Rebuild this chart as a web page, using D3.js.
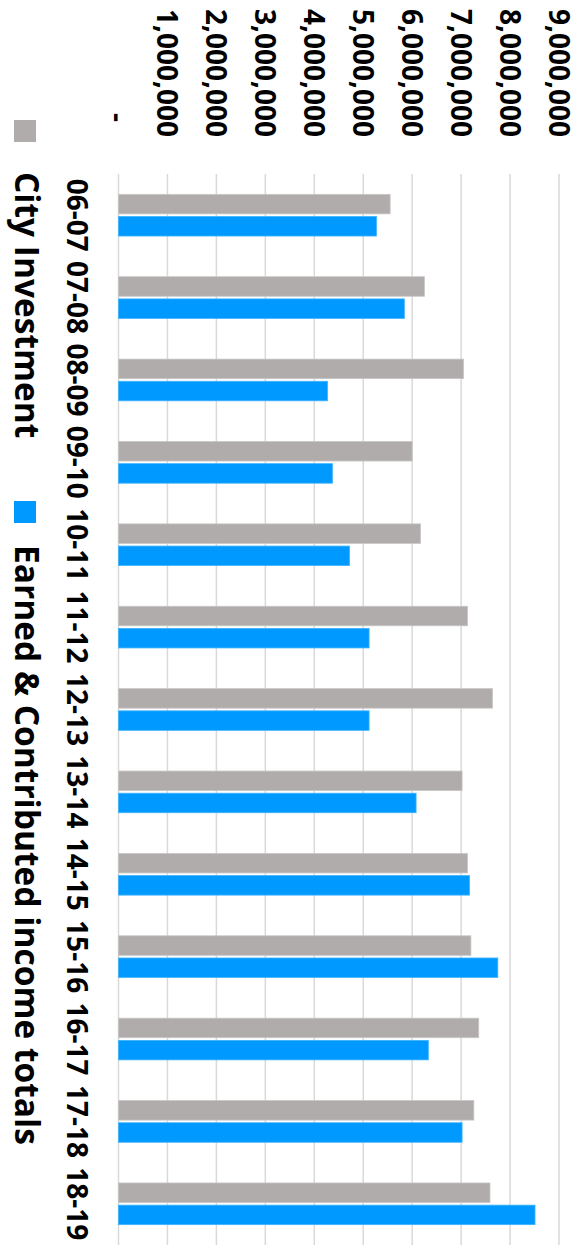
<!DOCTYPE html>
<html><head><meta charset="utf-8">
<script src="https://cdn.jsdelivr.net/npm/d3@7"></script>
<style>html,body{margin:0;padding:0;background:#fff;}svg{display:block;}</style>
</head><body>
<script>
const categories = ["06-07","07-08","08-09","09-10","10-11","11-12","12-13","13-14","14-15","15-16","16-17","17-18","18-19"];
const cityInvestment = [5550000,6250000,7050000,6000000,6170000,7130000,7640000,7020000,7130000,7200000,7360000,7260000,7590000];
const earnedContributed = [5270000,5840000,4270000,4370000,4720000,5120000,5120000,6080000,7170000,7750000,6330000,7020000,8510000];
const seriesNames = ["City Investment","Earned & Contributed income totals"];
const seriesColors = ["#AFACAB","#0099FF"];
const tickValues = [0,1000000,2000000,3000000,4000000,5000000,6000000,7000000,8000000,9000000];
const tickLabels = ["-","1,000,000","2,000,000","3,000,000","4,000,000","5,000,000","6,000,000","7,000,000","8,000,000","9,000,000"];

const W = 578, H = 1253;
const svg = d3.select("body").append("svg").attr("width", W).attr("height", H);
// draw in an unrotated frame (width H, height W), then rotate 90deg clockwise
const g = svg.append("g").attr("transform", `translate(${W},0) rotate(90)`);
const font = "'Open Sans', sans-serif";

const x0 = d3.scaleBand().domain(categories).range([174, 1245]).paddingInner(0.494).paddingOuter(0.247);
const x1 = d3.scaleBand().domain([0,1]).range([0, x0.bandwidth()]).paddingInner(0.12);
const y = d3.scaleLinear().domain([0, 9000000]).range([459.5, 19]);

// gridlines
g.append("g").selectAll("line").data(tickValues).join("line")
  .attr("x1", 174).attr("x2", 1245)
  .attr("y1", d => y(d)).attr("y2", d => y(d))
  .attr("stroke", "#D9D9D9").attr("stroke-width", 1.5);

// value labels
g.append("g").selectAll("text").data(tickValues).join("text")
  .attr("x", (d,i) => i === 0 ? 122 : 137)
  .attr("y", d => y(d))
  .attr("dy", "0.36em")
  .attr("text-anchor", "end")
  .attr("font-family", font).attr("font-weight", "bold").attr("font-size", 28)
  .attr("fill", "#000")
  .text((d,i) => tickLabels[i]);

// bars
const data = categories.map((c,i) => ({c, vals:[cityInvestment[i], earnedContributed[i]]}));
const groups = g.append("g").selectAll("g").data(data).join("g")
  .attr("transform", d => `translate(${x0(d.c)},0)`);
groups.selectAll("rect").data(d => d.vals.map((v,k) => ({v,k}))).join("rect")
  .attr("x", d => x1(d.k)).attr("width", x1.bandwidth())
  .attr("y", d => y(d.v)).attr("height", d => y(0) - y(d.v))
  .attr("fill", d => seriesColors[d.k])
  .attr("stroke", d => d.k === 0 ? "#C8C6C5" : "#3FB3FF").attr("stroke-width", 0.8);

// category labels
g.append("g").selectAll("text").data(categories).join("text")
  .attr("x", d => x0(d) + x0.bandwidth()/2)
  .attr("y", 511)
  .attr("text-anchor", "middle")
  .attr("font-family", font).attr("font-weight", "bold").attr("font-size", 28)
  .attr("fill", "#000")
  .text(d => d);

// legend
const legendPos = [{sq:120, tx:172}, {sq:501, tx:545}];
const leg = g.append("g").selectAll("g").data(seriesNames).join("g");
leg.append("rect")
  .attr("x", (d,i) => legendPos[i].sq).attr("y", 542)
  .attr("width", 22).attr("height", 22)
  .attr("fill", (d,i) => seriesColors[i]);
leg.append("text")
  .attr("x", (d,i) => legendPos[i].tx).attr("y", 563)
  .attr("font-family", font).attr("font-weight", "bold").attr("font-size", 33.5)
  .attr("fill", "#000")
  .text(d => d);
</script>
</body></html>
